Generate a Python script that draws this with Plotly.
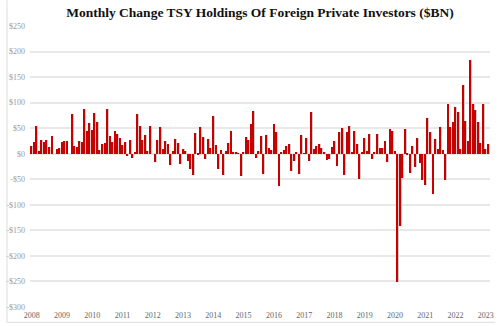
import plotly.graph_objects as go

title = "Monthly Change TSY Holdings Of Foreign Private Investors ($BN)"

years = [str(y) for y in range(2008, 2024)]

# monthly change, $BN, starting Jan 2008 (182 months)
values = [
    15, 23, 54, 5, 26, 23, 27, 14, 34, 0, 10, 12,
    23, 25, 24, 0, 78, 15, 14, 25, 23, 87, 45, 61,
    47, 79, 62, 8, 20, 21, 87, 35, 23, 44, 39, 30,
    17, 22, -4, 26, -9, 2, 77, 55, 27, 37, 6, 54,
    0, -17, 27, 52, 10, 25, 19, -23, 6, 29, 21, -21,
    9, 5, -15, -29, -41, 40, -3, 53, 33, -10, 29, 12,
    74, 18, -29, 8, -42, 5, 21, 44, 2, 2, 1, -43,
    4, 32, 27, 58, 83, -8, 6, 34, -39, 37, 11, 7,
    59, 42, -64, 3, 7, 15, 19, -33, -14, 2, -40, 36,
    1, 31, -14, 82, 10, 15, 19, 12, 2, -12, -10, 13,
    24, -24, 43, 50, -41, 42, 55, 4, 44, 19, -50, 4,
    30, 5, 39, -10, 4, 39, 12, 12, 25, -16, 49, 45,
    5, -251, -141, -47, 49, -2, -38, 16, -26, 30, -18, -51,
    -62, 70, 43, -78, 29, 10, 53, 8, -51, 97, 53, 62,
    92, 81, 10, 134, 65, 25, 184, 97, 86, 62, 21, 97,
    10, 19,
]

y_ticks = list(range(-300, 251, 50))
y_labels = [("-$%d" % -v) if v < 0 else ("$%d" % v) for v in y_ticks]

x = list(range(len(values)))
year_pos = [i * 12 for i in range(len(years))]

fig = go.Figure()
# drop shadow
fig.add_trace(go.Bar(
    x=x, y=values, width=0.55, offset=-0.0,
    marker=dict(color="#cccccc", line=dict(width=0)),
    hoverinfo="skip", showlegend=False,
))
# main bars
fig.add_trace(go.Bar(
    x=x, y=values, width=0.55, offset=-0.33,
    marker=dict(color="#c80000", line=dict(width=0)),
    showlegend=False,
))

fig.update_layout(
    width=500, height=326,
    margin=dict(l=24, r=6, t=26, b=16),
    paper_bgcolor="white", plot_bgcolor="white",
    barmode="overlay", bargap=0,
    title=dict(text="<b>%s</b>" % title, x=0.5, xanchor="center",
               xref="paper", y=0.963, yanchor="middle", yref="container",
               font=dict(family="Liberation Serif", size=13.5, color="#111")),
    xaxis=dict(range=[-0.66, 181.66], tickmode="array", tickvals=year_pos,
               ticktext=years, showgrid=False, zeroline=False,
               tickfont=dict(family="Liberation Serif", size=8, color="#666"),
               ticks="", ticklen=0, showline=False, ticklabelstandoff=2),
    yaxis=dict(range=[-300, 250], tickmode="array", tickvals=y_ticks,
               ticktext=y_labels, showgrid=True, gridcolor="#e8e8e8",
               gridwidth=1.5, zeroline=False,
               tickfont=dict(family="Liberation Serif", size=8, color="#999"),
               ticks="", ticklabelstandoff=4),
    shapes=[
        dict(type="line", xref="paper", yref="paper",
             x0=-23.5 / 470, x1=-23.5 / 470, y0=-15.5 / 284, y1=310 / 284,
             line=dict(color="#dddddd", width=1)),
        dict(type="line", xref="paper", yref="paper",
             x0=-23.5 / 470, x1=475.5 / 470, y0=-15.5 / 284, y1=-15.5 / 284,
             line=dict(color="#dddddd", width=1)),
    ],
)

fig.write_html("out.html")
